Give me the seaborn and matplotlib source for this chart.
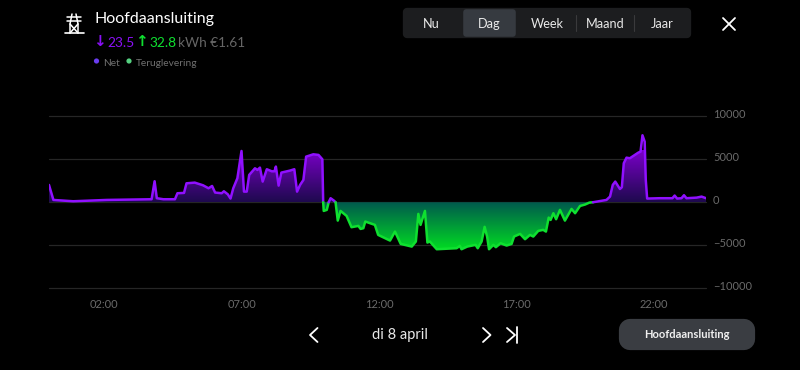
"""
Hoofdaansluiting day chart, di 8 april
"""

import numpy as np
import pandas as pd
import seaborn as sns
import matplotlib.pyplot as plt
from matplotlib.colors import LinearSegmentedColormap
from matplotlib.patches import Circle, FancyBboxPatch
from matplotlib.transforms import ScaledTranslation

hours = [0.0, 0.16, 0.88, 2.1, 3.73, 3.84, 3.92, 4.16, 4.58, 4.67, 4.91, 5.0, 5.3, 5.6, 5.8,
         5.93, 6.04, 6.28, 6.36, 6.5, 6.6, 6.7, 6.85, 7.0, 7.09, 7.19, 7.28, 7.49, 7.58,
         7.67, 7.77, 7.92, 8.1, 8.2, 8.25, 8.35, 8.45, 8.76, 8.92, 9.02, 9.13, 9.25, 9.35,
         9.61, 9.8, 9.94, 9.97, 9.99, 10.1, 10.17, 10.24, 10.36, 10.42, 10.5, 10.6, 10.82,
         11.0, 11.25, 11.33, 11.43, 11.5, 11.85, 11.97, 12.4, 12.58, 12.79, 13.19, 13.34,
         13.43, 13.51, 13.67, 13.76, 13.85, 14.1, 14.82, 14.94, 15.0, 15.21, 15.51, 15.59,
         15.73, 15.84, 15.93, 16.0, 16.16, 16.25, 16.42, 16.64, 16.82, 16.91, 17.13, 17.31,
         17.49, 17.61, 17.79, 17.97, 18.07, 18.17, 18.24, 18.34, 18.44, 18.58, 18.76, 19.0,
         19.13, 19.31, 19.49, 19.65, 19.78, 20.27, 20.4, 20.5, 20.59, 20.76, 20.83, 20.9,
         21.0, 21.12, 21.43, 21.51, 21.58, 21.66, 21.7, 21.75, 22.2, 22.67, 22.75, 22.84,
         23.0, 23.09, 23.18, 23.55, 23.73, 23.89]
power = [2020, 270, 115, 270, 350, 2450, 470, 350, 350, 1050, 1090, 2210, 2290, 1980, 1630,
         1900, 1130, 1050, 1280, 930, 430, 1630, 2800, 5980, 1240, 1240, 3190, 3960, 3770,
         4040, 2410, 3850, 3610, 3610, 4160, 1940, 3460, 3690, 3850, 1240, 2020, 2600, 5320,
         5590, 5520, 5010, 0, -1010, -890, 0, 470, 190, 0, -2140, -1010, -1590,
         -2910, -2760, -3110, -3030, -2250, -2640, -3810, -4470, -3420, -4860, -5170, -4580,
         -1360, -2640, -1010, -4700, -4580, -5480, -5360, -5090, -5480, -5170, -4970, -5360,
         -4580, -2870, -4000, -5480, -4970, -5240, -4780, -5050, -4860, -4000, -3690, -4310,
         -3810, -4000, -3340, -3220, -3420, -1790, -2060, -1280, -1980, -890, -2140, -780,
         -1280, -430, -270, -40, 0, 270, 660, 2020, 2410, 1550, 1750, 4550,
         5200, 5130, 5790, 5900, 7810, 7070, 2600, 430, 470, 470, 780, 430,
         470, 820, 470, 540, 660, 470]

x_ticks = [2, 7, 12, 17, 22]
x_labels = ["02:00", "07:00", "12:00", "17:00", "22:00"]
y_ticks = [-10000, -5000, 0, 5000, 10000]
tabs = ["Nu", "Dag", "Week", "Maand", "Jaar"]

PURPLE = "#9010ff"
GREEN = "#0fe030"


def gradient_fill(ax, seg, cmap, lo, hi):
    # gradient image clipped to the area under one run of the curve
    poly = ax.fill_between(seg["hour"], seg["power"], 0, color="none", lw=0)
    grad = np.linspace(0, 1, 256).reshape(-1, 1)
    img = ax.imshow(grad, cmap=cmap, origin="lower", aspect="auto", zorder=1,
                    extent=[0, 24, lo, hi])
    img.set_clip_path(poly.get_paths()[0], ax.transData)


def chevron(ui, x, y, w, h, color="white"):
    ui.plot([x, x + w, x], [y - h, y, y + h], color=color, lw=1.3)


def draw_ui(ui):
    # header
    ui.plot([65, 84], [33, 33], color="white", lw=1.2)
    ui.plot([67, 81], [17, 17], color="white", lw=1.1)
    ui.plot([67, 81], [21, 21], color="white", lw=1.1)
    ui.plot([72, 70, 70], [14, 24, 33], color="white", lw=1.1)
    ui.plot([76, 78, 78], [14, 24, 33], color="white", lw=1.1)
    ui.plot([70, 78], [24, 33], color="white", lw=1.1)
    ui.plot([78, 70], [24, 33], color="white", lw=1.1)

    ui.text(94, 19, "Hoofdaansluiting", color="white", fontsize=11.5, va="center")
    ui.text(93.5, 42, "↓", color="#8a10f5", fontsize=11, va="center",
            family=["DejaVu Sans"], fontweight="bold")
    ui.text(107, 43, "23.5", color="#8a10f5", fontsize=9.9, va="center")
    ui.text(135.5, 42, "↑", color=GREEN, fontsize=11, va="center",
            family=["DejaVu Sans"], fontweight="bold")
    ui.text(149, 43, "32.8", color=GREEN, fontsize=9.9, va="center")
    ui.text(178, 43, "kWh €1.61", color="#666666", fontsize=9.8, va="center")

    ui.add_patch(Circle((96.5, 61), 2.6, color="#6a3df0", lw=0))
    ui.text(103, 63, "Net", color="#707070", fontsize=7.3, va="center")
    ui.add_patch(Circle((129, 61), 2.6, color="#55d080", lw=0))
    ui.text(136, 63, "Teruglevering", color="#707070", fontsize=7.3, va="center")

    # period selector
    ui.add_patch(FancyBboxPatch((407, 12), 280, 22, boxstyle="round,pad=0,rounding_size=0",
                                fc="#1c1d1f", ec="#1c1d1f", lw=6, joinstyle="round"))
    ui.add_patch(FancyBboxPatch((466, 12), 47, 22, boxstyle="round,pad=0,rounding_size=0",
                                fc="#363a40", ec="#363a40", lw=4, joinstyle="round"))
    for x in [576, 634]:
        ui.plot([x, x], [15, 31], color="#3a3a3c", lw=0.8)
    for label, x in zip(tabs, [431, 489, 547, 605, 662]):
        ui.text(x, 24, label, color="#e8e8e8", fontsize=9.2, ha="center", va="center")

    ui.plot([723, 735], [18, 30], color="white", lw=1.3)
    ui.plot([735, 723], [18, 30], color="white", lw=1.3)

    # date navigation
    chevron(ui, 317.5, 335, -7.5, 7)
    ui.text(399.5, 335.5, "di 8 april", color="#e8e8e8", fontsize=10.5, ha="center", va="center")
    chevron(ui, 483, 335, 7.5, 7)
    chevron(ui, 507, 335, 8, 7)
    ui.plot([516.5, 516.5], [327, 343], color="white", lw=1.3)

    ui.add_patch(FancyBboxPatch((630, 330), 114, 9, boxstyle="round,pad=0,rounding_size=0",
                                fc="#3a3d42", ec="#3a3d42", lw=16, joinstyle="round"))
    ui.text(687, 335, "Hoofdaansluiting", color="#f0f0f0", fontsize=8, fontweight="bold",
            ha="center", va="center")


def main():
    sns.set_theme(style="dark")
    plt.rcParams["font.family"] = ["Lato", "DejaVu Sans"]

    fig = plt.figure(figsize=(8, 3.7), dpi=100, facecolor="black")
    ax = fig.add_axes([49 / 800, 1 - 288 / 370, 657 / 800, 171.5 / 370], facecolor="black")

    df = pd.DataFrame({"hour": hours, "power": power})
    zeros = df.index[df["power"] == 0].tolist()
    edges = [0] + zeros + [len(df) - 1]

    purple_map = LinearSegmentedColormap.from_list("net", ["#1e0a4e", "#7a00c8"])
    green_map = LinearSegmentedColormap.from_list("terug", ["#00dd22", "#00564e"])

    for start, stop in zip(edges[:-1], edges[1:]):
        seg = df.iloc[start:stop + 1]
        positive = seg["power"].sum() > 0
        if positive:
            gradient_fill(ax, seg, purple_map, 0, 6000)
        else:
            gradient_fill(ax, seg, green_map, -5600, 0)
        sns.lineplot(data=seg, x="hour", y="power", ax=ax, color=PURPLE if positive else GREEN,
                     lw=1.8, estimator=None, sort=False, zorder=3, legend=False,
                     solid_joinstyle="round")

    ax.set_xlim(0, 23.89)
    ax.set_ylim(-10000, 10000)
    ax.set_xticks(x_ticks, x_labels)
    ax.set_yticks(y_ticks)
    ax.yaxis.tick_right()
    ax.tick_params(axis="both", length=0, labelcolor="#6a6a6a", labelsize=8)
    ax.tick_params(axis="x", pad=8)
    ax.tick_params(axis="y", pad=5)
    ax.set_xlabel("")
    ax.set_ylabel("")
    ax.grid(axis="y", color="#262626", lw=0.9, clip_on=False)
    ax.grid(axis="x", visible=False)
    ax.set_axisbelow(True)
    sns.despine(ax=ax, left=True, bottom=True)

    # y labels sit a little above their grid lines
    lift = ScaledTranslation(0, 2.5 / 100, fig.dpi_scale_trans)
    for label in ax.get_yticklabels():
        label.set_transform(label.get_transform() + lift)

    ui = fig.add_axes([0, 0, 1, 1], facecolor="none")
    ui.set_xlim(0, 800)
    ui.set_ylim(370, 0)
    ui.axis("off")
    draw_ui(ui)

    fig.savefig("out.png", dpi=100, facecolor="black")


if __name__ == "__main__":
    main()
